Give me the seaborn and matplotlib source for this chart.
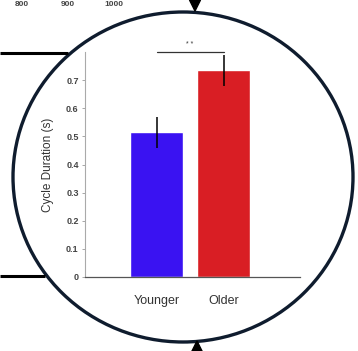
import matplotlib
matplotlib.use("Agg")
import matplotlib.pyplot as plt
from matplotlib.patches import Ellipse, Polygon
import seaborn as sns
import pandas as pd

groups = ["Younger", "Older"]
means = [0.515, 0.735]
err_low = [0.46, 0.68]
err_high = [0.57, 0.79]
bar_colors = ["#3a12f2", "#d91e24"]
yticks = [0, 0.1, 0.2, 0.3, 0.4, 0.5, 0.6, 0.7]
ytick_labels = ["0", "0.1", "0.2", "0.3", "0.4", "0.5", "0.6", "0.7"]
top_ticks = ["800", "900", "1000"]
sig_label = "* *"

sns.set_style("white")
plt.rcParams["font.family"] = ["Liberation Sans", "DejaVu Sans"]

W, H = 358, 351
fig = plt.figure(figsize=(W / 100, H / 100), dpi=100)
fig.patch.set_facecolor("white")

ax = fig.add_axes([85 / W, (H - 277) / H, 215 / W, 225 / H])
df = pd.DataFrame({"group": groups, "mean": means})
sns.barplot(data=df, x="group", y="mean", hue="group", palette=bar_colors,
            width=0.79, errorbar=None, legend=False, ax=ax, saturation=1)
for i, (m, lo, hi) in enumerate(zip(means, err_low, err_high)):
    ax.errorbar(i, m, yerr=[[m - lo], [hi - m]], color="black", lw=1.1,
                capsize=0, clip_on=False, zorder=5)
ax.set_xlim(-1.067, 2.14)
ax.set_ylim(0, 0.8)
ax.set_yticks(yticks)
ax.set_yticklabels(ytick_labels, fontsize=6.5, color="#444444", fontweight="bold")
ax.tick_params(axis="y", length=2.5, width=0.6, color="#999999", pad=2, left=True)
ax.tick_params(axis="x", length=0, labelsize=9, labelcolor="#333333", pad=13)
ax.set_xlabel("")
ax.set_ylabel("Cycle Duration (s)", fontsize=8.5, color="#333333", labelpad=9)
for s in ["top", "right"]:
    ax.spines[s].set_visible(False)
ax.spines["left"].set_color("#aaaaaa")
ax.spines["left"].set_linewidth(0.8)
ax.spines["bottom"].set_color("#555555")
ax.spines["bottom"].set_linewidth(0.9)

# significance bracket
ax.plot([0, 1], [0.80, 0.80], color="#333333", lw=0.9, clip_on=False)
ax.text(0.5, 0.815, sig_label, ha="center", va="bottom", fontsize=5,
        color="#333333")

# overlay for circle and decorations
ov = fig.add_axes([0, 0, 1, 1])
ov.set_xlim(0, W)
ov.set_ylim(H, 0)
ov.axis("off")
ov.patch.set_alpha(0)
ov.add_patch(Ellipse((183, 177), 340, 330, fill=False, lw=2.4, color="#0f1c2e"))
ov.plot([0, 68], [52.5, 52.5], color="black", lw=2.2, solid_capstyle="butt")
ov.plot([0, 45], [275.5, 275.5], color="black", lw=2.2, solid_capstyle="butt")
ov.add_patch(Polygon([(189.5, 0), (200.5, 0), (195, 11)], closed=True, color="black"))
ov.add_patch(Polygon([(191.5, 352), (202.5, 352), (197, 341)], closed=True, color="black"))
for xpos, lab in zip([22, 68, 114], top_ticks):
    ov.text(xpos, 1, lab, ha="center", va="top", fontsize=6, color="#444444",
            fontweight="bold")

fig.savefig("out.png", dpi=100)
